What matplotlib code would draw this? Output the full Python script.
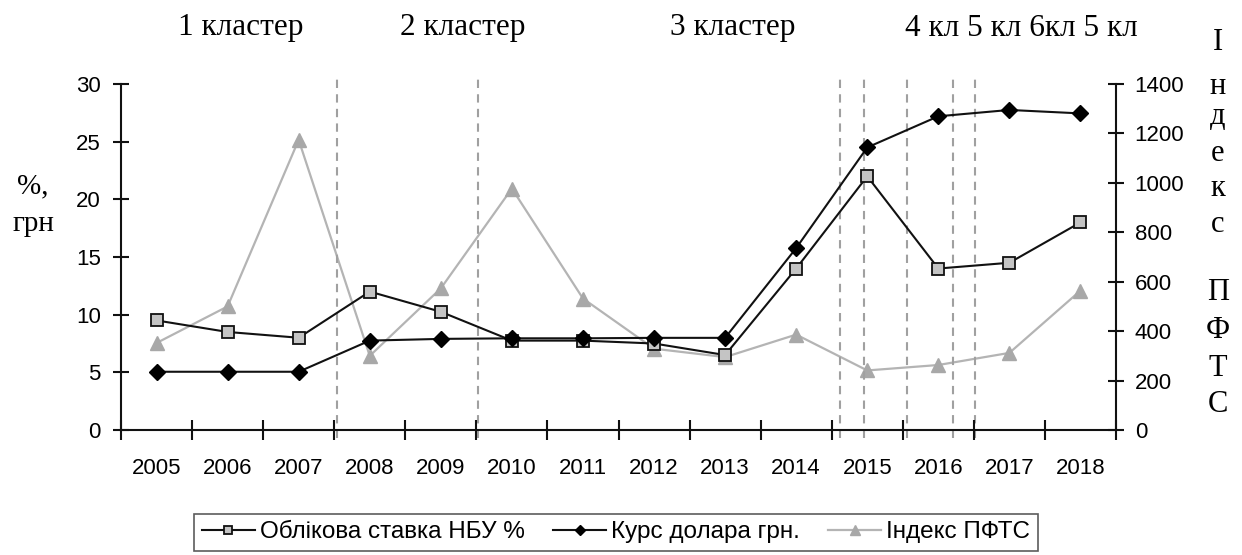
import matplotlib
matplotlib.use("Agg")
import matplotlib.pyplot as plt
import numpy as np

years = ["2005", "2006", "2007", "2008", "2009", "2010", "2011",
         "2012", "2013", "2014", "2015", "2016", "2017", "2018"]
rate_nbu = [9.5, 8.5, 8.0, 12.0, 10.25, 7.75, 7.75, 7.5, 6.5, 14.0, 22.0, 14.0, 14.5, 18.0]
usd_rate = [5.05, 5.05, 5.05, 7.75, 7.9, 7.95, 7.95, 7.99, 7.99, 15.77, 24.5, 27.2, 27.75, 27.45]
pfts_index = [352, 500, 1174, 300, 573, 977, 532, 329, 295, 386, 241, 263, 312, 564]
cluster_bounds = [2.54, 4.53, 9.61, 9.95, 10.56, 11.2, 11.52]
cluster_labels = ["1 кластер", "2 кластер", "3 кластер", "4 кл 5 кл 6кл 5 кл"]
cluster_label_x = [241, 463, 733, 1021]
left_ticks = [0, 5, 10, 15, 20, 25, 30]
right_ticks = [0, 200, 400, 600, 800, 1000, 1200, 1400]
right_label_letters = ["І", "н", "д", "е", "к", "с", "", "П", "Ф", "Т", "С"]

SANS = ["Liberation Sans", "DejaVu Sans"]
SERIF = ["Liberation Serif", "DejaVu Serif"]

W, H = 1242, 555
fig = plt.figure(figsize=(W / 100, H / 100), dpi=100)
ax = fig.add_axes([121 / W, 1 - 430 / H, (1116 - 121) / W, (430 - 84) / H])
ax2 = ax.twinx()

x = np.arange(len(years))

ax.set_xlim(-0.5, len(years) - 0.5)
ax.set_ylim(0, 30)
ax2.set_ylim(0, 1400)

ax.vlines(cluster_bounds, -0.7, 30.4, colors="#a0a0a0", linestyles=(0, (4, 3)),
          linewidth=1.5, clip_on=False, zorder=1)

l3, = ax2.plot(x, pfts_index, color="#b4b4b4", lw=1.6, marker="^", ms=10,
               mfc="#a8a8a8", mec="#a8a8a8", label="Індекс ПФТС", zorder=2)
l1, = ax.plot(x, rate_nbu, color="#111111", lw=1.5, marker="s", ms=9,
              mfc="#c4c4c4", mec="#111111", mew=1.3, label="Облікова ставка НБУ %", zorder=4)
l2, = ax.plot(x, usd_rate, color="#111111", lw=1.5, marker="D", ms=8,
              mfc="#000000", mec="#000000", label="Курс долара грн.", zorder=5)
ax.set_zorder(ax2.get_zorder() + 1)
ax.patch.set_visible(False)

for a in (ax, ax2):
    a.spines["top"].set_visible(False)
    for s in a.spines.values():
        s.set_linewidth(1.5)
        s.set_color("#111111")
ax.spines["right"].set_visible(False)
ax2.spines["left"].set_visible(False)
ax2.spines["bottom"].set_visible(False)

ax.set_xticks(x)
ax.set_xticklabels(years, fontfamily=SANS, fontsize=16)
ax.set_xticks(np.arange(-0.5, len(years) + 0.5, 1), minor=True)
ax.tick_params(axis="x", which="major", length=0, pad=20)
ax.tick_params(axis="x", which="minor", direction="inout", length=14, width=1.5, color="#111111")

ax.set_yticks(left_ticks)
ax.set_yticklabels([str(v) for v in left_ticks], fontfamily=SANS, fontsize=16)
ax.tick_params(axis="y", direction="inout", length=11, width=1.5, pad=9, color="#111111")

ax2.set_yticks(right_ticks)
ax2.set_yticklabels([str(v) for v in right_ticks], fontfamily=SANS, fontsize=16)
ax2.tick_params(axis="y", direction="inout", length=11, width=1.5, pad=8, color="#111111")

for lab, px in zip(cluster_labels, cluster_label_x):
    fig.text(px / W, 1 - 28 / H, lab, ha="center", va="center", fontfamily=SERIF, fontsize=22.5)

fig.text(33 / W, 1 - 186 / H, "%,", ha="center", va="center", fontfamily=SERIF, fontsize=21)
fig.text(33 / W, 1 - 224 / H, "грн", ha="center", va="center", fontfamily=SERIF, fontsize=21)

letter_y = [42, 86, 116, 153, 188, 224, 258, 293, 330, 368, 405]
for ch, py in zip(right_label_letters, letter_y):
    if ch:
        fig.text(1218 / W, 1 - py / H, ch, ha="center", va="center", fontfamily=SERIF, fontsize=22)

leg = fig.legend(handles=[l1, l2, l3], loc="upper center", bbox_to_anchor=(616 / W, 1 - 514 / H),
                 ncol=3, frameon=True, fancybox=False, prop={"family": SANS, "size": 17.5},
                 handlelength=2.2, handletextpad=0.2, columnspacing=1.15, borderpad=0.3,
                 borderaxespad=0, markerscale=0.7)
leg.get_frame().set_edgecolor("#333333")
leg.get_frame().set_linewidth(1.2)

fig.savefig("out.png", dpi=100, facecolor="white")
